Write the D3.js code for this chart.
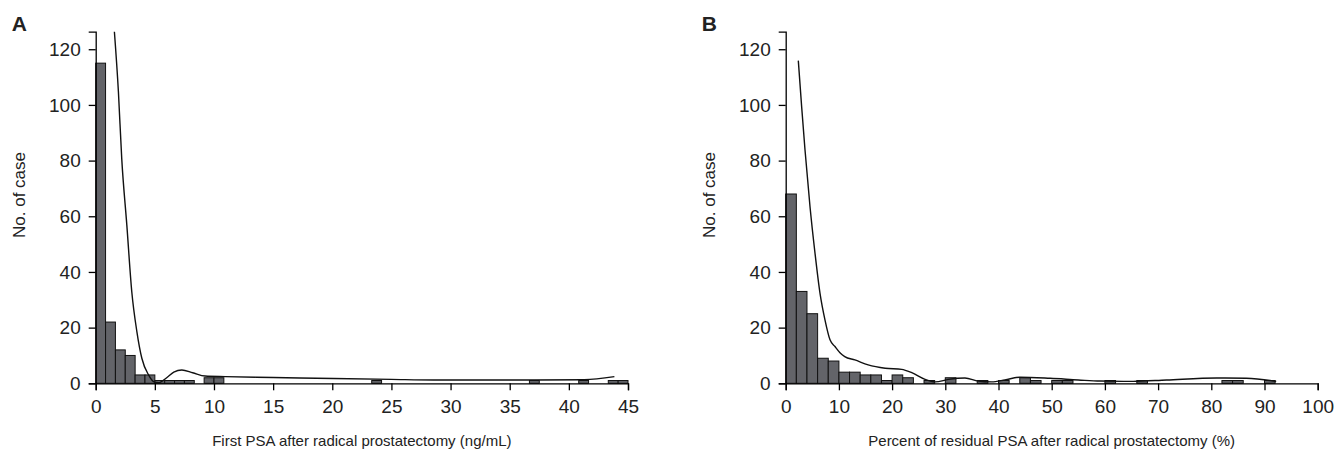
<!DOCTYPE html>
<html>
<head>
<meta charset="utf-8">
<script src="https://cdn.jsdelivr.net/npm/d3@7"></script>
<style>
  body { margin: 0; background: #fff; }
  svg { font-family: "Liberation Sans", Arial, sans-serif; }
  .axis path, .axis line { stroke: #000; stroke-width: 1.3px; }
  .axis text { font-size: 19px; fill: #222; }
</style>
</head>
<body>
<div id="chart"></div>
<script>
// Panel A: first PSA after radical prostatectomy (ng/mL), bin width 5/6
const psaBinWidth = 5 / 6;
const psaCounts = [115, 22, 12, 10, 3, 3, 1, 1, 1, 1, 0, 2, 2, 0, 0, 0, 0, 0,
  0, 0, 0, 0, 0, 0, 0, 0, 0, 0, 1, 0, 0, 0, 0, 0, 0, 0,
  0, 0, 0, 0, 0, 0, 0, 0, 1, 0, 0, 0, 0, 1, 0, 0, 1, 1];
const psaTicks = [0, 5, 10, 15, 20, 25, 30, 35, 40, 45];
// density curve
const psaCurveX = [1.58, 1.92, 2.2, 2.63, 3.05, 3.48, 3.9, 4.47, 4.89, 5.31, 6.0, 6.6, 7.28, 8.2, 9.25, 10.95, 15, 20.1, 25, 28.6, 33, 37.1, 41.3, 43.85];
const psaCurveY = [126.3, 104.7, 80.8, 56.9, 32.9, 18.6, 9.0, 3.0, 0.6, 0.2, 2.0, 4.0, 4.8, 3.8, 2.6, 2.4, 2.1, 1.7, 1.4, 1.2, 1.2, 1.2, 1.3, 2.4];

// Panel B: percent of residual PSA (%), bin width 2
const rpsaBinWidth = 2;
const rpsaCounts = [68, 33, 25, 9, 8, 4, 4, 3, 3, 1, 3, 2, 0, 1, 0, 2, 0, 0,
  1, 0, 1, 0, 2, 1, 0, 1, 1, 0, 0, 0, 1, 0, 0, 1, 0, 0,
  0, 0, 0, 0, 0, 1, 1, 0, 0, 1];
const rpsaTicks = [0, 10, 20, 30, 40, 50, 60, 70, 80, 90, 100];
const rpsaCurveX = [2.37, 3.0, 3.63, 4.57, 5.51, 6.45, 7.39, 8.33, 9.27, 10.2, 11.1, 13.0, 15.5, 18.7, 21.8, 23.7, 26.2, 28.1, 30.6, 33.7, 36.2, 38.7, 41.2, 44.0, 49.7, 55, 59.1, 65.3, 71.6, 81.0, 86.6, 92.2];
const rpsaCurveY = [115.9, 99.3, 83.8, 63.4, 46.7, 32.3, 22.7, 15.6, 13.2, 11.0, 9.6, 8.4, 6.6, 5.4, 5.0, 3.8, 1.4, 0.5, 1.4, 1.9, 0.8, 0.5, 1.2, 2.2, 1.8, 1.2, 0.8, 0.7, 1.2, 1.9, 1.8, 0.7];

const countTicks = [0, 20, 40, 60, 80, 100, 120];

const svg = d3.select("#chart")
    .append("svg")
    .attr("width", 1336)
    .attr("height", 452);

function drawPanel(opt) {
    const x = d3.scaleLinear().domain([0, opt.xMax]).range([opt.left, opt.right]);
    const y = d3.scaleLinear().domain([0, 126.3]).range([383.3, 31.7]);

    const g = svg.append("g");

    // bars
    g.append("g")
        .selectAll("rect")
        .data(opt.counts.map((c, i) => ({x0: i * opt.binWidth, x1: (i + 1) * opt.binWidth, n: c})).filter(d => d.n > 0))
        .join("rect")
        .attr("x", d => x(d.x0))
        .attr("y", d => y(d.n))
        .attr("width", d => x(d.x1) - x(d.x0))
        .attr("height", d => y(0) - y(d.n))
        .attr("fill", "#636469")
        .attr("stroke", "#111")
        .attr("stroke-width", 1);

    // density line
    const line = d3.line()
        .x(d => x(d[0]))
        .y(d => y(d[1]))
        .curve(d3.curveMonotoneX);
    g.append("path")
        .datum(opt.curveX.map((v, i) => [v, opt.curveY[i]]))
        .attr("d", line)
        .attr("fill", "none")
        .attr("stroke", "#111")
        .attr("stroke-width", 1.4);

    // axes
    g.append("g")
        .attr("class", "axis")
        .attr("transform", `translate(0,${y(0)})`)
        .call(d3.axisBottom(x).tickValues(opt.ticks).tickSize(7).tickSizeOuter(7).tickPadding(9));
    g.append("g")
        .attr("class", "axis")
        .attr("transform", `translate(${opt.left},0)`)
        .call(d3.axisLeft(y).tickValues(countTicks).tickSize(7).tickSizeOuter(7).tickPadding(8));

    g.selectAll(".axis .domain").attr("stroke-width", 1.4);

    // titles
    g.append("text")
        .attr("x", (opt.left + opt.right) / 2)
        .attr("y", 446)
        .attr("text-anchor", "middle")
        .attr("font-size", "15px")
        .attr("fill", "#222")
        .text(opt.title);
    g.append("text")
        .attr("transform", `translate(${opt.left - 71},195) rotate(-90)`)
        .attr("text-anchor", "middle")
        .attr("font-size", "17px")
        .attr("fill", "#222")
        .text("No. of case");
    g.append("text")
        .attr("x", opt.left - 84)
        .attr("y", 31)
        .attr("font-size", "21px")
        .attr("font-weight", "bold")
        .attr("fill", "#222")
        .text(opt.letter);
}

drawPanel({
    letter: "A", left: 95.7, right: 628, xMax: 45,
    counts: psaCounts, binWidth: psaBinWidth, ticks: psaTicks,
    curveX: psaCurveX, curveY: psaCurveY,
    title: "First PSA after radical prostatectomy (ng/mL)"
});
drawPanel({
    letter: "B", left: 785.7, right: 1317.7, xMax: 100,
    counts: rpsaCounts, binWidth: rpsaBinWidth, ticks: rpsaTicks,
    curveX: rpsaCurveX, curveY: rpsaCurveY,
    title: "Percent of residual PSA after radical prostatectomy (%)"
});
</script>
</body>
</html>
